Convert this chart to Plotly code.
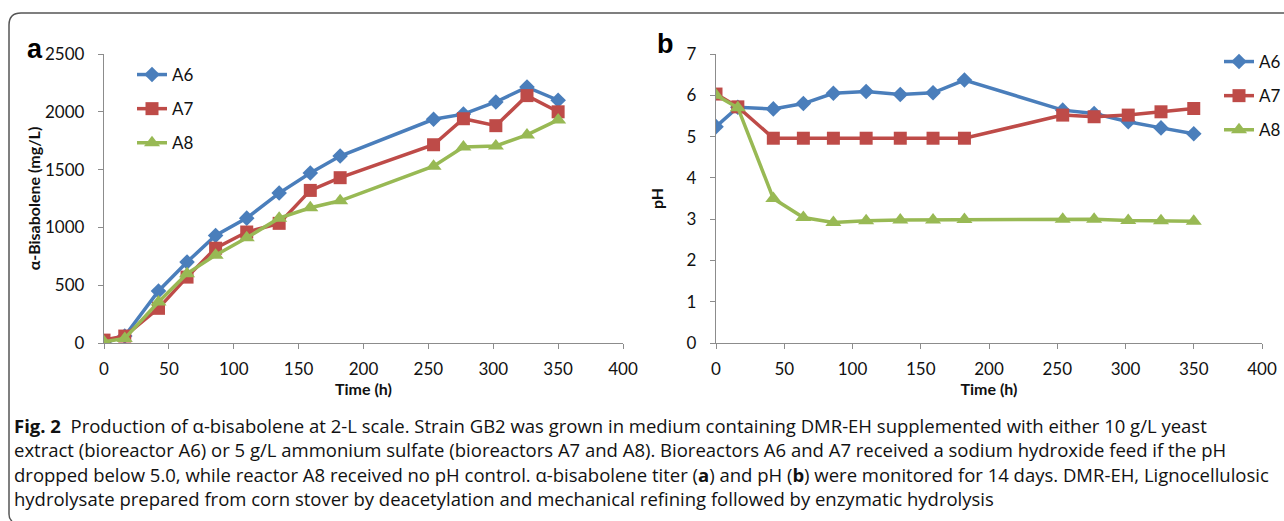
import plotly.graph_objects as go

time_h = [0, 16, 42, 64, 86, 110, 135, 159, 182, 254, 277, 302, 326, 350]

bis_A6 = [0, 60, 450, 700, 930, 1080, 1297, 1470, 1617, 1935, 1980, 2085, 2214, 2100]
bis_A7 = [25, 60, 300, 570, 820, 960, 1035, 1320, 1430, 1715, 1940, 1880, 2140, 2000]
bis_A8 = [10, 40, 355, 600, 760, 910, 1080, 1170, 1230, 1530, 1695, 1705, 1800, 1930]

ph_A6 = [5.24, 5.71, 5.67, 5.80, 6.05, 6.09, 6.02, 6.06, 6.37, 5.64, 5.56, 5.36, 5.21, 5.07]
ph_A7 = [6.03, 5.72, 4.96, 4.96, 4.96, 4.96, 4.96, 4.96, 4.96, 5.52, 5.48, 5.52, 5.60, 5.68]
ph_A8 = [6.00, 5.70, 3.50, 3.04, 2.92, 2.96, 2.98, 2.98, 2.99, 3.00, 3.00, 2.97, 2.96, 2.95]

series_names = ["A6", "A7", "A8"]
colors = ["#4A7EBB", "#BE4B48", "#98B954"]
symbols = ["diamond", "square", "triangle-up"]
msizes = [12, 13, 14]

W, H = 1284, 521
FONT = "Lato"

fig = go.Figure()

left = [bis_A6, bis_A7, bis_A8]
right = [ph_A6, ph_A7, ph_A8]
for i, name in enumerate(series_names):
    fig.add_trace(go.Scatter(
        x=time_h, y=left[i], name=name, mode="lines+markers",
        line=dict(color=colors[i], width=3.5),
        marker=dict(symbol=symbols[i], size=msizes[i], color=colors[i]),
        xaxis="x", yaxis="y", legend="legend", legendgroup="L" + name,
    ))
for i, name in enumerate(series_names):
    fig.add_trace(go.Scatter(
        x=time_h, y=right[i], name=name, mode="lines+markers",
        line=dict(color=colors[i], width=3.5),
        marker=dict(symbol=symbols[i], size=msizes[i], color=colors[i]),
        xaxis="x2", yaxis="y2", legend="legend2", legendgroup="R" + name,
    ))

def px_x(p):
    return p / W

def px_y(p):
    return 1 - p / H

ydom = [px_y(343), px_y(54)]
axis_common = dict(
    showgrid=False, zeroline=False, showline=True, linecolor="#8C8C8C", linewidth=1.3,
    ticks="outside", ticklen=5, tickcolor="#8C8C8C", tickwidth=1.3,
    tickfont=dict(family=FONT, size=17, color="#111"),
)

fig.update_layout(
    width=W, height=H, margin=dict(l=0, r=0, t=0, b=0, autoexpand=False),
    paper_bgcolor="white", plot_bgcolor="white",
    font=dict(family=FONT, color="#111"),
    xaxis=dict(domain=[px_x(104), px_x(623)], range=[0, 400], dtick=50,
               anchor="y", ticklabelstandoff=5,
               title=dict(text="<b>Time (h)</b>", font=dict(size=16), standoff=6),
               **axis_common),
    yaxis=dict(domain=ydom, range=[0, 2500], dtick=500, anchor="x",
               title=dict(text="<b>α-Bisabolene (mg/L)</b>", font=dict(size=16), standoff=0),
               ticklabelstandoff=10, **axis_common),
    xaxis2=dict(domain=[px_x(716), px_x(1262)], range=[0, 400], dtick=50,
                anchor="y2", ticklabelstandoff=5,
                title=dict(text="<b>Time (h)</b>", font=dict(size=16), standoff=6),
                **axis_common),
    yaxis2=dict(domain=ydom, range=[0, 7], dtick=1, anchor="x2",
                title=dict(text="<b>pH</b>", font=dict(size=16), standoff=18),
                ticklabelstandoff=10, **axis_common),
    legend=dict(x=px_x(132), y=px_y(57), xanchor="left", yanchor="top",
                font=dict(family=FONT, size=17, color="#111"), bgcolor="rgba(0,0,0,0)",
                tracegroupgap=9, itemwidth=30),
    legend2=dict(x=px_x(1219), y=px_y(44), xanchor="left", yanchor="top",
                 font=dict(family=FONT, size=17, color="#111"), bgcolor="rgba(0,0,0,0)",
                 tracegroupgap=9, itemwidth=30),
    showlegend=True,
)

# panel labels
fig.add_annotation(text="<b>a</b>", x=px_x(35), y=px_y(49), xref="paper", yref="paper",
                   xanchor="center", yanchor="middle",
                   showarrow=False, font=dict(family="Liberation Sans", size=27, color="#000"))
fig.add_annotation(text="<b>b</b>", x=px_x(665), y=px_y(44), xref="paper", yref="paper",
                   xanchor="center", yanchor="middle",
                   showarrow=False, font=dict(family="Liberation Sans", size=27, color="#000"))

# caption
caption_lines = [
    "<b>Fig. 2</b>  Production of α-bisabolene at 2-L scale. Strain GB2 was grown in medium containing DMR-EH supplemented with either 10 g/L yeast",
    "extract (bioreactor A6) or 5 g/L ammonium sulfate (bioreactors A7 and A8). Bioreactors A6 and A7 received a sodium hydroxide feed if the pH",
    "dropped below 5.0, while reactor A8 received no pH control. α-bisabolene titer (<b>a</b>) and pH (<b>b</b>) were monitored for 14 days. DMR-EH, Lignocellulosic",
    "hydrolysate prepared from corn stover by deacetylation and mechanical refining followed by enzymatic hydrolysis",
]
line_y = [425, 449.5, 474, 498.5]
for txt, yy in zip(caption_lines, line_y):
    fig.add_annotation(text=txt, x=px_x(12), y=px_y(yy), xref="paper", yref="paper",
                       xanchor="left", yanchor="middle", showarrow=False,
                       font=dict(family="Open Sans", size=18.5, color="#111"))

# frame
fig.add_shape(type="path", xref="paper", yref="paper",
              path=f"M 1.01,{px_y(13)} L {px_x(21)},{px_y(13)} Q {px_x(9)},{px_y(13)} {px_x(9)},{px_y(25)} L {px_x(9)},{px_y(514)} Q {px_x(9)},{px_y(519)} {px_x(12)},{px_y(521)}",
              line=dict(color="#555", width=1.5))

fig.write_html("out.html")
